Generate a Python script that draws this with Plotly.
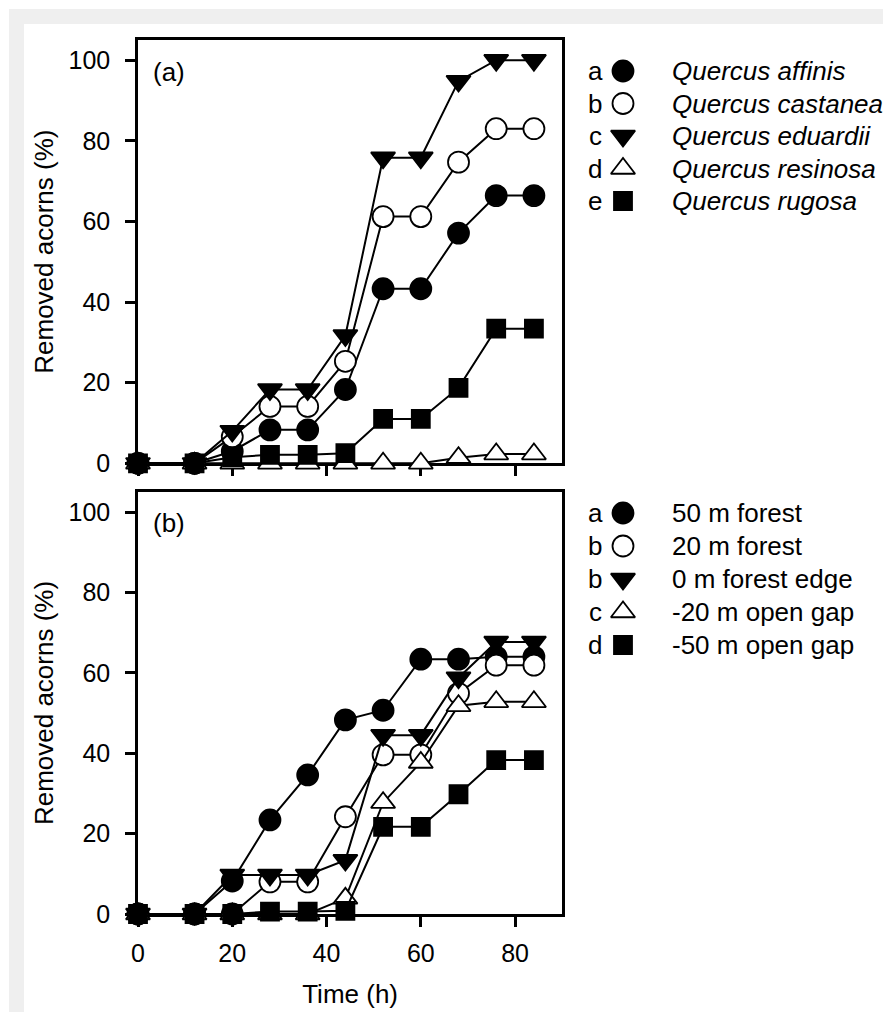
import plotly.graph_objects as go

# ---------------- data ----------------
time_h = [0, 12, 20, 28, 36, 44, 52, 60, 68, 76, 84]

species_names = ["Quercus affinis", "Quercus castanea", "Quercus eduardii",
                 "Quercus resinosa", "Quercus rugosa"]
species_letters = ["a", "b", "c", "d", "e"]
affinis = [0, 0, 3.0, 8.3, 8.3, 18.3, 43.3, 43.3, 57.1, 66.4, 66.4]
castanea = [0, 0, 6.6, 14.1, 14.1, 25.3, 61.2, 61.2, 74.7, 83.0, 83.0]
eduardii = [0, 0, 8.0, 18.3, 18.3, 31.7, 75.8, 75.8, 94.8, 100, 100]
resinosa = [0, 0, 0, 0, 0, 0, 0, 0, 1.4, 2.3, 2.3]
rugosa = [0, 0, 1.5, 2.1, 2.1, 2.5, 11.0, 11.0, 18.7, 33.4, 33.4]

distance_names = ["50 m forest", "20 m forest", "0 m forest edge",
                  "-20 m open gap", "-50 m open gap"]
distance_letters = ["a", "b", "b", "c", "d"]
forest50 = [0, 0, 8.2, 23.4, 34.6, 48.3, 50.7, 63.4, 63.4, 64.0, 64.0]
forest20 = [0, 0, 0, 8.0, 8.0, 24.2, 39.6, 39.6, 54.9, 61.9, 61.9]
edge0 = [0, 0, 9.7, 9.7, 9.7, 13.4, 44.5, 44.5, 58.8, 67.7, 67.7]
gap20 = [0, 0, 0, 0, 0, 3.9, 27.7, 37.7, 51.8, 52.8, 52.8]
gap50 = [0, 0, 0, 0.6, 0.6, 0.8, 21.7, 21.7, 29.8, 38.3, 38.3]

x_ticks = [0, 20, 40, 60, 80]
y_ticks = [0, 20, 40, 60, 80, 100]

# ---------------- styles ----------------
symbols = ["circle", "circle", "triangle-down", "triangle-up", "square"]
fills = ["black", "white", "black", "white", "black"]
sizes = [21, 21, 21, 21, 18]
FONT = "Liberation Sans, Arial, sans-serif"

OFF = 8                      # page body margin
W, H = 891 - OFF, 1012 - OFF
ML, MT, MB = 130, 32, 98
PW = W - ML
PH = H - MT - MB


def px_x(sx):
    """screen x -> paper x"""
    return (sx - OFF - ML) / PW


def px_y(sy):
    """screen y -> paper y"""
    return (H - MB - (sy - OFF)) / PH


main_right = px_x(562.2)
top_a, bot_a = 40, 463.3
top_b, bot_b = 492, 914

fig = go.Figure()

series_a = [affinis, castanea, eduardii, resinosa, rugosa]
series_b = [forest50, forest20, edge0, gap20, gap50]

for i, vals in enumerate(series_a):
    fig.add_trace(go.Scatter(
        x=time_h, y=vals, mode="lines+markers", xaxis="x2", yaxis="y2",
        name=species_names[i], showlegend=False, cliponaxis=False,
        line=dict(color="black", width=2),
        marker=dict(symbol=symbols[i], size=sizes[i], color=fills[i], opacity=1,
                    line=dict(color="black", width=1.8))))

for i, vals in enumerate(series_b):
    fig.add_trace(go.Scatter(
        x=time_h, y=vals, mode="lines+markers", xaxis="x", yaxis="y",
        name=distance_names[i], showlegend=False, cliponaxis=False,
        line=dict(color="black", width=2),
        marker=dict(symbol=symbols[i], size=sizes[i], color=fills[i], opacity=1,
                    line=dict(color="black", width=1.8))))

# legend keys on a hidden axis measured in screen pixels
rows_a = [71, 103.5, 136, 168.5, 201]
rows_b = [513, 546, 579, 612, 645]
sym_x, let_x, txt_x = 623, 595, 670
fig.add_trace(go.Scatter(
    x=[sym_x] * 10, y=rows_a + rows_b, mode="markers", xaxis="x3", yaxis="y3",
    showlegend=False, cliponaxis=False, hoverinfo="skip",
    marker=dict(symbol=symbols + symbols, size=sizes + sizes, color=fills + fills,
                opacity=1, line=dict(color="black", width=1.8))))

annotations = []
for i in range(5):
    annotations.append(dict(x=let_x, y=rows_a[i], xref="x3", yref="y3", text=species_letters[i],
                            showarrow=False, xanchor="center", yanchor="middle",
                            font=dict(size=26, family=FONT, color="black")))
    annotations.append(dict(x=txt_x, y=rows_a[i], xref="x3", yref="y3",
                            text="<i>" + species_names[i] + "</i>",
                            showarrow=False, xanchor="left", yanchor="middle",
                            font=dict(size=26, family=FONT, color="black")))
    annotations.append(dict(x=let_x, y=rows_b[i], xref="x3", yref="y3", text=distance_letters[i],
                            showarrow=False, xanchor="center", yanchor="middle",
                            font=dict(size=26, family=FONT, color="black")))
    annotations.append(dict(x=txt_x, y=rows_b[i], xref="x3", yref="y3",
                            text=distance_names[i],
                            showarrow=False, xanchor="left", yanchor="middle",
                            font=dict(size=26, family=FONT, color="black")))

annotations.append(dict(x=px_x(151), y=px_y(72), xref="paper", yref="paper", text="(a)",
                        showarrow=False, xanchor="left", yanchor="middle",
                        font=dict(size=26, family=FONT, color="black")))
annotations.append(dict(x=px_x(151), y=px_y(523), xref="paper", yref="paper", text="(b)",
                        showarrow=False, xanchor="left", yanchor="middle",
                        font=dict(size=26, family=FONT, color="black")))

gray = "#efefef"
shapes = [
    dict(type="rect", xref="paper", yref="paper", x0=px_x(9), x1=px_x(891), y0=px_y(24), y1=px_y(9),
         fillcolor=gray, line=dict(width=0), layer="below"),
    dict(type="rect", xref="paper", yref="paper", x0=px_x(9), x1=px_x(24), y0=px_y(1012), y1=px_y(9),
         fillcolor=gray, line=dict(width=0), layer="below"),
]

axis_common = dict(showline=True, linewidth=2.5, linecolor="black", mirror=True,
                   showgrid=False, zeroline=False, ticks="outside", ticklen=10,
                   tickwidth=2.5, tickcolor="black", layer="below traces",
                   tickfont=dict(size=25, family=FONT, color="black"))

fig.update_layout(
    width=W, height=H,
    margin=dict(l=ML, r=0, t=MT, b=MB, pad=0),
    paper_bgcolor="white", plot_bgcolor="white",
    showlegend=False,
    font=dict(family=FONT, color="black"),
    xaxis=dict(domain=[0, main_right], range=[0, 90], anchor="y", tickvals=x_ticks,
               ticklabelstandoff=5,
               title=dict(text="Time (h)", font=dict(size=26, family=FONT), standoff=20),
               **axis_common),
    xaxis2=dict(domain=[0, main_right], range=[0, 90], anchor="y2", tickvals=x_ticks,
                showticklabels=False, **axis_common),
    yaxis=dict(domain=[px_y(bot_b), px_y(top_b)], range=[0, 105], anchor="x", tickvals=y_ticks,
               ticklabelstandoff=10,
               title=dict(text="Removed acorns (%)", font=dict(size=26, family=FONT), standoff=8),
               **axis_common),
    yaxis2=dict(domain=[px_y(bot_a), px_y(top_a)], range=[0, 105], anchor="x2", tickvals=y_ticks,
                ticklabelstandoff=10,
                title=dict(text="Removed acorns (%)", font=dict(size=26, family=FONT), standoff=8),
                **axis_common),
    xaxis3=dict(domain=[main_right, 1], range=[562.2, 891], anchor="y3", visible=False, fixedrange=True),
    yaxis3=dict(domain=[0, 1], range=[914, 40], anchor="x3", visible=False, fixedrange=True),
    annotations=annotations,
    shapes=shapes,
)

fig.write_html("out.html")
